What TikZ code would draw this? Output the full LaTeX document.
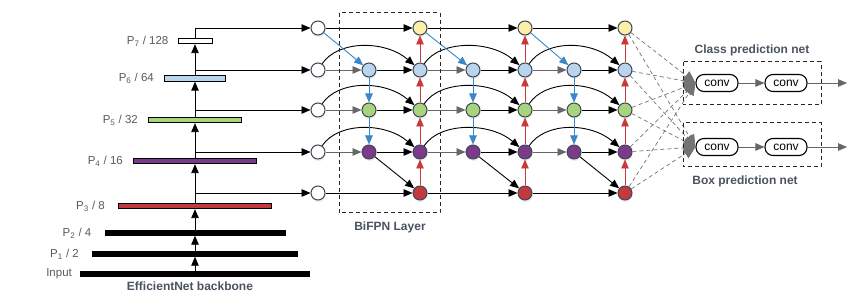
\documentclass[tikz,border=0pt]{standalone}
\usepackage{fontspec}
\setmainfont{Liberation Sans}
\usepackage{xcolor}
\usetikzlibrary{arrows.meta,positioning,shadows}

\definecolor{row7}{HTML}{FCEFA8}
\definecolor{row6}{HTML}{B9D4EC}
\definecolor{row5}{HTML}{A9D47E}
\definecolor{row4}{HTML}{7B3B8A}
\definecolor{row3}{HTML}{C23A3C}
\definecolor{nodeline}{HTML}{3E4756}
\definecolor{bluelink}{HTML}{3A86C6}
\definecolor{redlink}{HTML}{C9383A}
\definecolor{labelgray}{HTML}{5A5A5A}
\definecolor{titlegray}{HTML}{4B5262}

\tikzset{
  fnode/.style={circle,draw=nodeline,line width=1pt,minimum size=14pt,inner sep=0pt,
    drop shadow={opacity=0.15,shadow xshift=0.6pt,shadow yshift=-2pt}},
  arr/.style={-{Triangle[length=9pt,width=7.5pt]},line width=0.9pt},
  grayarr/.style={arr,draw=black!60},
  bluearr/.style={arr,draw=bluelink},
  redarr/.style={arr,draw=redlink},
  dasharr/.style={-{Triangle[length=12pt,width=11pt]},draw=black!55,line width=0.7pt,
    dash pattern=on 4pt off 3pt},
  bar/.style={draw=black,line width=0.9pt,minimum height=4.5pt,inner sep=0pt},
  barlabel/.style={font=\fontsize{11.5}{13}\selectfont,text=labelgray,inner sep=0pt},
  title/.style={font=\fontsize{12}{14}\selectfont\bfseries,text=titlegray,inner sep=0pt},
  convbox/.style={draw=black,line width=1.1pt,rounded corners=8pt,minimum width=42pt,
    minimum height=17pt,inner sep=0pt,font=\fontsize{12}{14}\selectfont},
  layerbox/.style={draw=black!85,line width=1pt,dash pattern=on 4pt off 3pt}
}

\begin{document}
\begin{tikzpicture}[x=1pt,y=-1pt]
  \useasboundingbox (0,0) rectangle (850,296);

  % backbone bars
  \node[bar,fill=black,minimum width=229pt] (bar0) at (195,274) {};
  \node[bar,fill=black,minimum width=205pt] (bar1) at (195,254) {};
  \node[bar,fill=black,minimum width=180pt] (bar2) at (195,233) {};
  \node[bar,fill=row3,minimum width=153pt,minimum height=5.5pt] (bar3) at (195,206) {};
  \node[bar,fill=row4,minimum width=123pt,minimum height=5.5pt] (bar4) at (195,161) {};
  \node[bar,fill=row5,minimum width=93pt,minimum height=5.5pt] (bar5) at (195,120) {};
  \node[bar,fill=row6,minimum width=61pt,minimum height=5.5pt] (bar6) at (195,78.5) {};
  \node[bar,fill=white,minimum width=34pt,minimum height=5.5pt] (bar7) at (195,41) {};

  \node[barlabel,left=8pt of bar0] (lab0) {Input};
  \node[barlabel,left=13pt of bar1] (lab1) {P\textsubscript{1} / 2};
  \node[barlabel,left=13pt of bar2] (lab2) {P\textsubscript{2} / 4};
  \node[barlabel,left=13pt of bar3] (lab3) {P\textsubscript{3} / 8};
  \node[barlabel,left=10pt of bar4] (lab4) {P\textsubscript{4} / 16};
  \node[barlabel,left=10pt of bar5] (lab5) {P\textsubscript{5} / 32};
  \node[barlabel,left=10pt of bar6] (lab6) {P\textsubscript{6} / 64};
  \node[barlabel,left=9pt of bar7] (lab7) {P\textsubscript{7} / 128};
  \node[title] (backbone) at (190,286) {EfficientNet backbone};

  \foreach \i [evaluate=\i as \j using int(\i+1)] in {0,...,6}
    \draw[arr] (bar\i.north) -- (bar\j.south);

  % feature nodes
  \foreach \r/\y in {7/28,6/70,5/110,4/152,3/193}{
    \node[fnode,fill=white] (a\r) at (318,\y) {};
    \foreach \c/\x in {c/420,e/525,g/625}
      \node[fnode,fill=row\r] (\c\r) at (\x,\y) {};
  }
  \foreach \r/\y in {6/70,5/110,4/152}
    \foreach \c/\x in {b/369,d/473,f/574}
      \node[fnode,fill=row\r] (\c\r) at (\x,\y) {};

  % backbone to first column
  \coordinate (t7) at (195,28);
  \draw[arr] (bar7.north) -- (t7) -- (a7);
  \foreach \r/\y in {6/70,5/110,4/152,3/193}{
    \coordinate (t\r) at (195,\y);
    \draw[arr] (t\r) -- (a\r);
  }

  % BiFPN layers
  \foreach \I/\M/\O in {a/b/c,c/d/e,e/f/g}{
    \draw[arr] (\I7) -- (\O7);
    \draw[arr] (\I3) -- (\O3);
    \foreach \r in {6,5,4}{
      \draw[grayarr] (\I\r) -- (\M\r);
      \draw[arr] (\M\r) -- (\O\r);
      \draw[arr] (\I\r) .. controls +(20,-30) and +(-35,-30) .. (\O\r);
    }
    \draw[bluearr] (\I7) -- (\M6);
    \draw[bluearr] (\M6) -- (\M5);
    \draw[bluearr] (\M5) -- (\M4);
    \draw[arr] (\M4) -- (\O3);
    \draw[redarr] (\O3) -- (\O4);
    \draw[redarr] (\O4) -- (\O5);
    \draw[redarr] (\O5) -- (\O6);
    \draw[redarr] (\O6) -- (\O7);
  }
  \draw[layerbox] (339,13) rectangle (440,213);
  \node[title] (bifpn) at (390,227) {BiFPN Layer};

  % prediction nets
  \node[convbox] (cc1) at (717,83) {conv};
  \node[convbox] (cc2) at (786,83) {conv};
  \node[convbox] (bc1) at (717,147) {conv};
  \node[convbox] (bc2) at (786,147) {conv};
  \coordinate (cout) at (847,83);
  \coordinate (bout) at (847,147);
  \draw[grayarr] (cc1) -- (cc2);
  \draw[grayarr] (cc2) -- (cout);
  \draw[grayarr] (bc1) -- (bc2);
  \draw[grayarr] (bc2) -- (bout);
  \foreach \r in {7,6,5,4,3}{
    \draw[dasharr] (g\r) -- (cc1.west);
    \draw[dasharr] (g\r) -- (bc1.west);
  }
  \draw[layerbox] (683,62) rectangle (821,105);
  \draw[layerbox] (683,123) rectangle (821,167);
  \node[title] (classnet) at (752,50) {Class prediction net};
  \node[title] (boxnet) at (745,181) {Box prediction net};
\end{tikzpicture}
\end{document}
